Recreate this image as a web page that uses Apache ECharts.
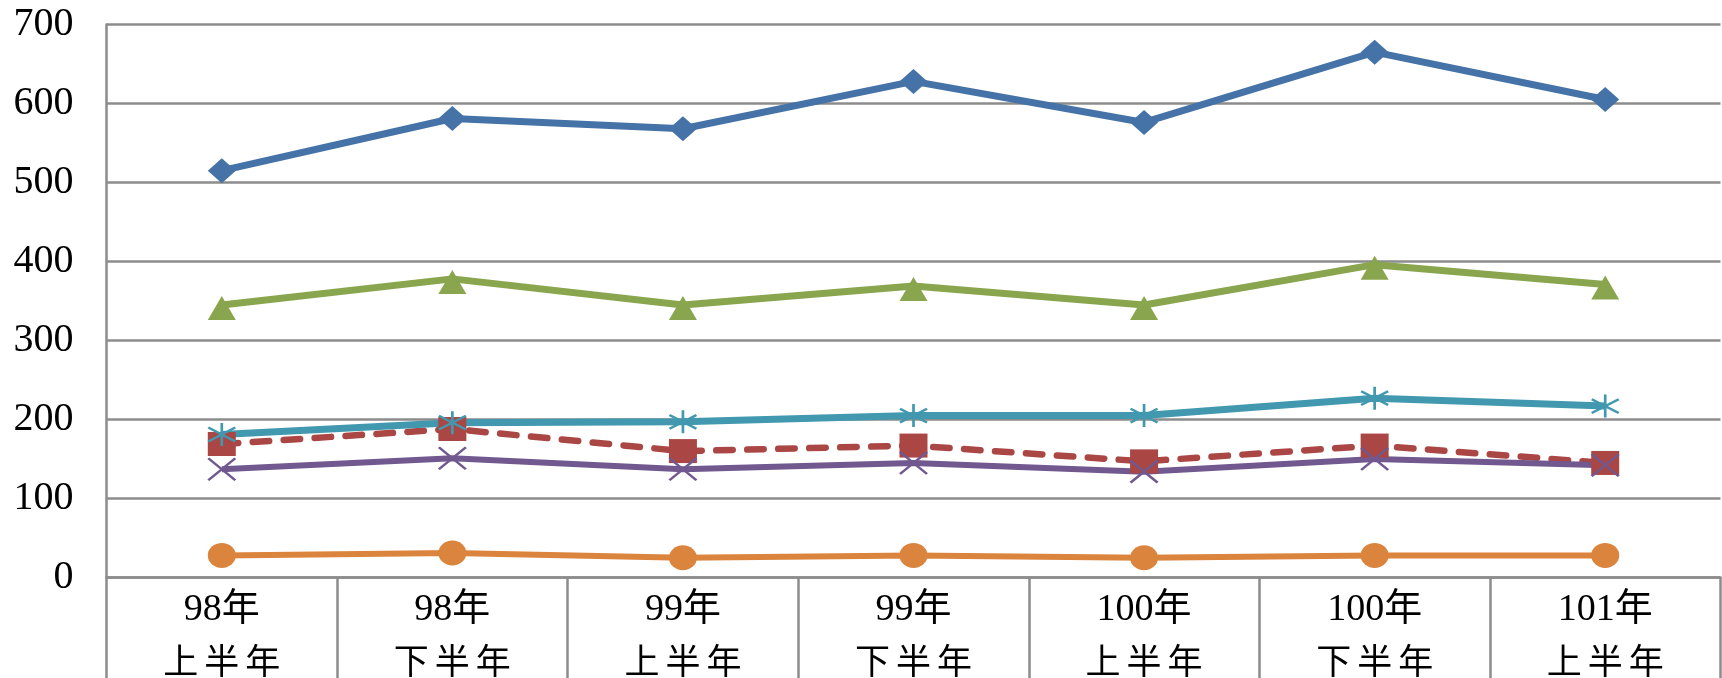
<!DOCTYPE html>
<html>
<head>
<meta charset="utf-8">
<script src="https://cdn.jsdelivr.net/npm/echarts@6/dist/echarts.min.js"></script>
<style>
html,body{margin:0;padding:0;background:#fff;}
#chart{width:1722px;height:678px;}
</style>
</head>
<body>
<div id="chart"></div>
<script>
const yearLabels = ['98年', '98年', '99年', '99年', '100年', '100年', '101年'];
const halfLabels = ['上半年', '下半年', '上半年', '下半年', '上半年', '下半年', '上半年'];
const yTicks = [0, 100, 200, 300, 400, 500, 600, 700];

const blueValues   = [515, 581, 568, 628, 576, 665, 605];
const redValues    = [169, 188, 160, 167, 147, 167, 145];
const greenValues  = [345, 378, 345, 369, 345, 396, 371];
const purpleValues = [137, 151, 137, 145, 134, 150, 142];
const cyanValues   = [181, 196, 197, 205, 205, 227, 217];
const orangeValues = [28, 31, 25, 28, 25, 28, 28];

const categories = yearLabels.map((y, i) => y + '|' + halfLabels[i]);

const chart = echarts.init(document.getElementById('chart'), null, {renderer: 'canvas'});

const gridColor = '#8c8c8c';
const asteriskPath = 'path://M10,0 L10,20 M0,4 L20,16 M0,16 L20,4';
const xPath = 'path://M0,0 L20,20 M0,20 L20,0';

function lineSeries(name, data, color, extra) {
  return Object.assign({
    name: name,
    type: 'line',
    data: data,
    smooth: false,
    z: 3,
    lineStyle: {color: color, width: 7},
    itemStyle: {color: color},
    emphasis: {disabled: true}
  }, extra);
}

chart.setOption({
  animation: false,
  backgroundColor: '#ffffff',
  grid: {left: 106.5, right: 1.5, top: 24.5, bottom: 100.5, containLabel: false, outerBoundsMode: 'none'},
  xAxis: {
    type: 'category',
    data: categories,
    boundaryGap: true,
    axisLine: {show: true, lineStyle: {color: gridColor, width: 2.5}},
    axisTick: {show: true, length: 120, lineStyle: {color: gridColor, width: 2.5}},
    splitLine: {show: false},
    axisLabel: {
      interval: 0,
      margin: 7,
      color: '#000',
      fontSize: 37,
      lineHeight: 51,
      fontFamily: "'Liberation Serif', 'Noto Sans CJK TC'",
      formatter: function (v) {
        const parts = v.split('|');
        const chars = parts[1].split('').map(c => '{c|' + c + '}').join('');
        return '{y|' + parts[0] + '}\n' + chars;
      },
      rich: {
        y: {fontSize: 38, lineHeight: 51, color: '#000', fontFamily: "'Liberation Serif', 'Noto Sans CJK TC'"},
        c: {fontSize: 35, lineHeight: 51, width: 41, align: 'center', color: '#000', fontFamily: "'Noto Sans CJK TC'"}
      }
    }
  },
  yAxis: {
    type: 'value',
    min: yTicks[0],
    max: yTicks[yTicks.length - 1],
    interval: 100,
    axisLine: {show: true, lineStyle: {color: gridColor, width: 2.5}},
    axisTick: {show: false},
    splitLine: {show: true, lineStyle: {color: gridColor, width: 2.5}},
    axisLabel: {
      margin: 33,
      color: '#000',
      fontSize: 40,
      fontFamily: "'Liberation Serif'"
    }
  },
  series: [
    lineSeries('數列1', blueValues, '#4572A7', {symbol: 'diamond', symbolSize: [28, 25]}),
    lineSeries('數列2', redValues, '#AA4643', {
      symbol: 'rect', symbolSize: [28, 24],
      lineStyle: {color: '#AA4643', width: 6.5, type: [16.5, 14.5], cap: 'round'}
    }),
    lineSeries('數列3', greenValues, '#89A54E', {symbol: 'triangle', symbolSize: [28, 24], symbolOffset: [0, 3]}),
    lineSeries('數列4', purpleValues, '#71588F', {
      symbol: xPath, symbolSize: [27, 22], symbolKeepAspect: false,
      lineStyle: {color: '#71588F', width: 6},
      itemStyle: {color: 'rgba(0,0,0,0)', borderColor: '#71588F', borderWidth: 2.5}
    }),
    lineSeries('數列5', cyanValues, '#4198AF', {
      symbol: asteriskPath, symbolSize: [27, 23], symbolKeepAspect: false,
      lineStyle: {color: '#4198AF', width: 7},
      itemStyle: {color: 'rgba(0,0,0,0)', borderColor: '#4198AF', borderWidth: 2.5}
    }),
    lineSeries('數列6', orangeValues, '#DB843D', {
      symbol: 'circle', symbolSize: [28, 25],
      lineStyle: {color: '#DB843D', width: 6}
    })
  ]
});
</script>
</body>
</html>
